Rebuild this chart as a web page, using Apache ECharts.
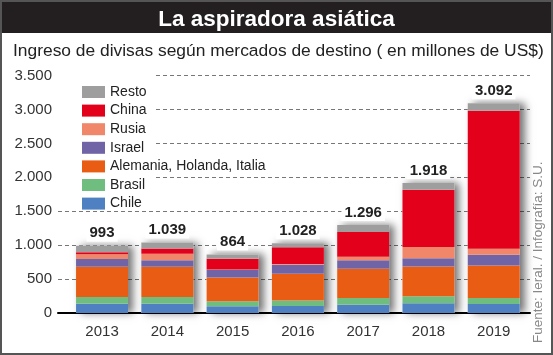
<!DOCTYPE html>
<html><head><meta charset="utf-8">
<script src="https://cdn.jsdelivr.net/npm/echarts@6/dist/echarts.min.js"></script>
<style>html,body{margin:0;padding:0;background:#fff}#c{width:553px;height:355px}</style>
</head><body><div id="c"></div>
<script>
const years = ['2013','2014','2015','2016','2017','2018','2019'];
const chile    = [138, 138,  98, 104, 123, 142, 133];
const brasil   = [ 99,  99,  74,  79,  99, 104,  89];
const alemania = [445, 444, 352, 395, 429, 440, 478];
const israel   = [114,  98, 112, 133, 127, 123, 158];
const rusia    = [ 70,  95,   5,  10,  50, 163,  89];
const china    = [ 30,  78, 158, 247, 365, 845, 2036];
const resto    = [ 97,  87,  65,  60, 103, 101, 109];
const totals   = [993, 1039, 864, 1028, 1296, 1918, 3092];
const yTicks = [0, 500, 1000, 1500, 2000, 2500, 3000, 3500];

const fmt = v => String(v).replace(/\B(?=(\d{3})+(?!\d))/g, '.');
const SANS = "'Liberation Sans',Arial,sans-serif";

const segs = [
  ['Chile', chile, '#4f81c2'],
  ['Brasil', brasil, '#70bd80'],
  ['Alemania, Holanda, Italia', alemania, '#e95c13'],
  ['Israel', israel, '#7164a6'],
  ['Rusia', rusia, '#f0866a'],
  ['China', china, '#e2001a'],
  ['Resto', resto, '#9e9e9f']
];

const chart = echarts.init(document.getElementById('c'));
const series = [{
  name: 'Total', type: 'bar', xAxisIndex: 1, yAxisIndex: 1,
  data: totals, barWidth: 52, barGap: '-100%', z: 1,
  itemStyle: { color: '#fff', shadowBlur: 8, shadowColor: 'rgba(0,0,0,0.55)', shadowOffsetX: 5, shadowOffsetY: 0 },
  label: { show: true, position: 'top', distance: 4, formatter: p => fmt(p.value),
    fontFamily: SANS, fontSize: 15, fontWeight: 'bold', color: '#222',
    backgroundColor: '#fff', padding: [1, 3] },
  silent: true
}];
segs.forEach(s => series.push({
  name: s[0], type: 'bar', stack: 'all', xAxisIndex: 1, yAxisIndex: 1,
  data: s[1], barWidth: 52, barGap: '-100%', z: 2,
  itemStyle: { color: s[2] }
}));

chart.setOption({
  animation: false,
  title: [
    { text: 'La aspiradora asiática', left: 'center', top: 3,
      textStyle: { color: '#fff', fontSize: 22.5, fontWeight: 'bold', fontFamily: SANS } },
    { text: 'Ingreso de divisas según mercados de destino ( en millones de US$)', left: 8, top: 38,
      textStyle: { color: '#222', fontSize: 17.4, fontWeight: 'normal', fontFamily: SANS } }
  ],
  legend: {
    orient: 'vertical', left: 77, top: 80, selectedMode: false,
    data: ['Resto', 'China', 'Rusia', 'Israel', 'Alemania, Holanda, Italia', 'Brasil', 'Chile'],
    icon: 'rect', itemWidth: 23, itemHeight: 12, itemGap: 4.6,
    textStyle: { fontFamily: SANS, fontSize: 14, color: '#222', lineHeight: 14 }
  },
  grid: [
    { left: 58, right: 23, top: 75.6, bottom: 42 },
    { left: 69.4, right: 26.6, top: 75.6, bottom: 42 }
  ],
  xAxis: [
    { gridIndex: 0, type: 'category', data: [''], axisTick: { show: false }, axisLabel: { show: false },
      axisLine: { show: true, lineStyle: { color: '#000', width: 2 } } },
    { gridIndex: 1, type: 'category', data: years, axisTick: { show: false },
      axisLine: { show: false },
      axisLabel: { fontFamily: SANS, fontSize: 15, color: '#333', margin: 11 } }
  ],
  yAxis: [
    { gridIndex: 0, type: 'value', min: 0, max: 3500, interval: 500,
      axisLine: { show: false }, axisTick: { show: false },
      axisLabel: { fontFamily: SANS, fontSize: 15, color: '#333', margin: 6,
        formatter: v => yTicks.includes(v) ? fmt(v) : '' },
      splitLine: { lineStyle: { color: '#777', type: [4, 3], width: 1 } } },
    { gridIndex: 1, type: 'value', min: 0, max: 3500, interval: 500, show: false,
      splitLine: { show: false } }
  ],
  graphic: { elements: [
    { type: 'rect', shape: { x: 56, y: 70, width: 97, height: 137 }, style: { fill: '#fff' }, z: 1 },
    { type: 'rect', shape: { x: 0, y: 0, width: 553, height: 33 }, style: { fill: '#231f20' }, z: -1 },
    { type: 'rect', shape: { x: 1, y: 1, width: 551, height: 353 }, style: { fill: 'none', stroke: '#555', lineWidth: 2 }, z: 10, silent: true },
    { type: 'text', x: 538, y: 343, rotation: Math.PI / 2,
      style: { text: 'Fuente: Ieral. / Infografía: S.U.', fill: '#888', font: "13.5px 'Liberation Sans', Arial, sans-serif",
        align: 'left', verticalAlign: 'middle' }, z: 5 }
  ] },
  series: series
});
</script></body></html>
